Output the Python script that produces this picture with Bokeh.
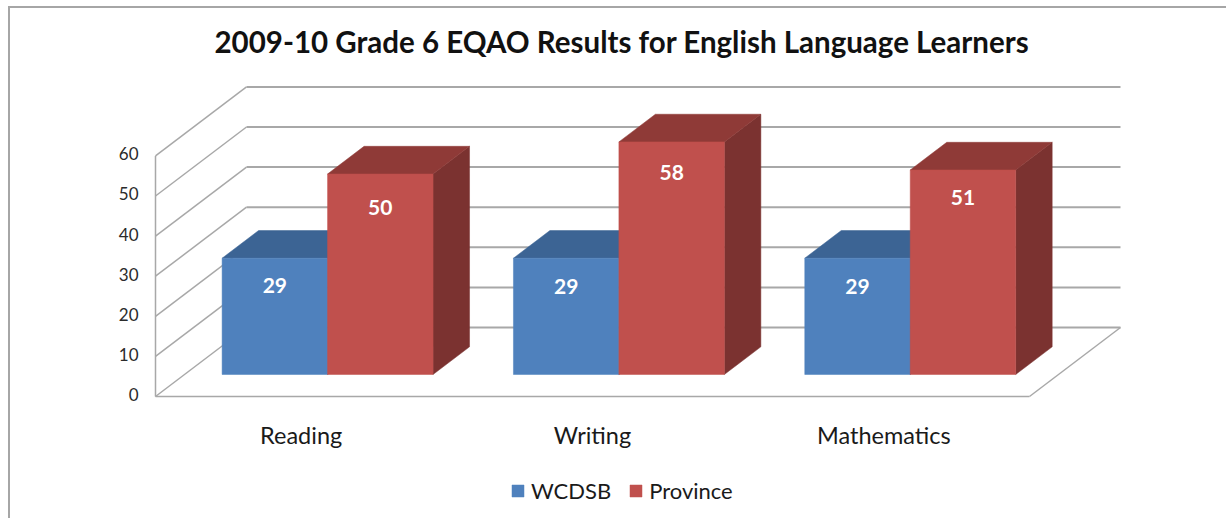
from bokeh.plotting import figure
from bokeh.models import ColumnDataSource, FixedTicker, Legend, LegendItem, Range1d
from bokeh.embed import file_html
from bokeh.resources import INLINE
from bokeh.core.properties import value

categories = ["Reading", "Writing", "Mathematics"]
wcdsb = [29, 29, 29]
province = [50, 58, 51]
y_ticks = [0, 10, 20, 30, 40, 50, 60]
title_text = "2009-10 Grade 6 EQAO Results for English Language Learners"

# layout (pixels and projection)
FONT = "Lato"
W, H = 1218, 512
PX_CAT, PX_VAL = 291.33, 4.01
DX, DY = 91 / PX_CAT, 69 / PX_VAL   # full depth of the floor, in data units
D0, D1 = 0.319, 0.72                # depth of bar front / back
GAP, BW = 0.129, 0.362
ML, MR, MT, MB = 140, 105, 0, 2     # margins to the frame
PAD = 5
AXIS_X, AXIS_Y = 155, 396           # page position of the value 0 corner
FRAME_TOP = 8 + MT
TITLE_X, TITLE_Y = 214, 41          # page position of the title
DROP_WCDSB = [27, 28, 28]
DROP_PROVINCE = [34, 31, 28]
LABEL_LIFT = 0.5                    # tick labels sit slightly above their grid lines
fw, fh = W - ML - MR, H - MT - MB
x0 = -PAD / PX_CAT
y_front = -PAD / PX_VAL
y0 = -(fh - (AXIS_Y - FRAME_TOP)) / PX_VAL
y1 = y0 + fh / PX_VAL

p = figure(width=W, height=H, output_backend="svg", toolbar_location=None,
           x_range=Range1d(x0, x0 + fw / PX_CAT), y_range=Range1d(y0, y1),
           min_border_left=ML, min_border_right=MR, min_border_top=MT, min_border_bottom=MB,
           outline_line_color=None, background_fill_color="white", border_fill_color="white")
p.styles = {"position": "absolute", "left": "8px", "top": "6px",
            "border-left": "2px solid #a6a6a6", "border-top": "2px solid #a6a6a6",
            "box-sizing": "border-box"}
p.xgrid.visible = False
p.ygrid.visible = False

# walls
GRID = "#a8a8a8"
n = len(categories)
p.multi_line([[0, DX] for _ in y_ticks], [[v, v + DY] for v in y_ticks], line_color=GRID, line_width=1.5)
p.multi_line([[DX, n + DX] for _ in y_ticks], [[v + DY, v + DY] for v in y_ticks], line_color=GRID, line_width=2)
p.multi_line([[0, 0], [0, n], [n, n + DX]], [[0, y_ticks[-1]], [0, 0], [0, DY]], line_color=GRID, line_width=1.5)


def bars(vals, off, front, top, side, drops):
    left = [i + off + D0 * DX for i in range(n)]
    right = [l + BW for l in left]
    bottom = [D0 * DY] * n
    tops = [v + D0 * DY for v in vals]
    ddx, ddy = (D1 - D0) * DX, (D1 - D0) * DY
    p.patches([[r, r + ddx, r + ddx, r] for r in right],
              [[b, b + ddy, t + ddy, t] for b, t in zip(bottom, tops)],
              fill_color=side, line_color=side, line_width=0.5)
    p.patches([[l, l + ddx, r + ddx, r] for l, r in zip(left, right)],
              [[t, t + ddy, t + ddy, t] for t in tops],
              fill_color=top, line_color=top, line_width=0.5)
    src = ColumnDataSource(dict(x=[(l + r) / 2 for l, r in zip(left, right)], b=bottom, t=tops,
                                txt=[str(v) for v in vals], drop=drops))
    r = p.vbar(x="x", bottom="b", top="t", width=BW, source=src, fill_color=front, line_color=front, line_width=0.5)
    p.text(x="x", y="t", text="txt", source=src, text_color="white", text_font=value(FONT),
           text_font_style="bold", text_font_size="21px", text_align="center", text_baseline="middle", y_offset="drop")
    return r


r1 = bars(wcdsb, GAP, "#4f81bd", "#3c6494", "#325a86", DROP_WCDSB)
r2 = bars(province, GAP + BW, "#c0504d", "#8f3a37", "#7b3230", DROP_PROVINCE)

# axes
yax = p.yaxis[0]
yax.ticker = FixedTicker(ticks=[v + LABEL_LIFT for v in y_ticks])
yax.major_label_overrides = {v + LABEL_LIFT: str(v) for v in y_ticks}
yax.axis_line_color = None
yax.major_tick_line_color = None
yax.minor_tick_line_color = None
yax.major_label_standoff = 6
yax.major_label_text_font = FONT
yax.major_label_text_font_size = "17px"
yax.major_label_text_color = "#2b2b2b"

xax = p.xaxis[0]
xax.fixed_location = y_front
xax.ticker = FixedTicker(ticks=[i + 0.5 for i in range(n)])
xax.major_label_overrides = {i + 0.5: c for i, c in enumerate(categories)}
xax.axis_line_color = None
xax.major_tick_line_color = None
xax.minor_tick_line_color = None
xax.major_label_standoff = 13
xax.major_label_text_font = FONT
xax.major_label_text_font_size = "23.5px"
xax.major_label_text_color = "#1a1a1a"

# legend
legend = Legend(items=[LegendItem(label="WCDSB", renderers=[r1]), LegendItem(label="Province", renderers=[r2])],
                orientation="horizontal", location=(360, 14), background_fill_alpha=0, border_line_color=None,
                padding=0, margin=0, glyph_width=15, glyph_height=15, label_standoff=6, spacing=17,
                label_text_font=FONT, label_text_font_size="22px", label_text_color="#1a1a1a")
p.add_layout(legend)

# title, drawn inside the frame so that it can sit at its own height
p.text(x=[(TITLE_X - AXIS_X) / PX_CAT], y=[(AXIS_Y - TITLE_Y) / PX_VAL], text=[title_text],
       text_color="#111111", text_font=value(FONT), text_font_style="bold", text_font_size="29.5px",
       text_align="left", text_baseline="middle")

open("out.html", "w").write(file_html(p, INLINE))
